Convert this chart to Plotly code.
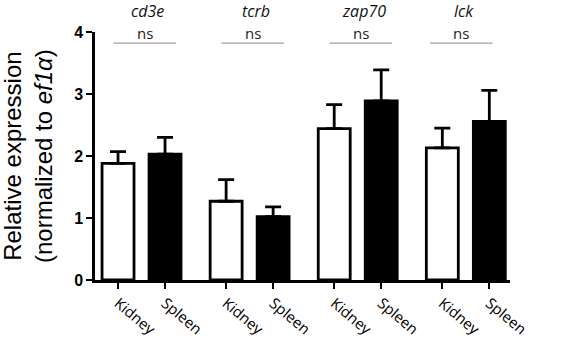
import plotly.graph_objects as go

genes = ["cd3e", "tcrb", "zap70", "lck"]
tissues = ["Kidney", "Spleen"]
kidney_mean = [1.88, 1.27, 2.44, 2.13]
kidney_err = [0.19, 0.35, 0.39, 0.32]
spleen_mean = [2.03, 1.02, 2.89, 2.56]
spleen_err = [0.27, 0.16, 0.50, 0.50]
sig_labels = ["ns", "ns", "ns", "ns"]
y_ticks = [0, 1, 2, 3, 4]

group_step = 2.3
kx = [i * group_step for i in range(len(genes))]
sx = [x + 1 for x in kx]

fig = go.Figure()
fig.add_trace(go.Bar(
    x=kx, y=kidney_mean, width=0.68, name="Kidney",
    marker=dict(color="white", line=dict(color="black", width=2.8)),
    error_y=dict(type="data", array=kidney_err, arrayminus=[0] * 4, symmetric=False,
                 color="black", thickness=2.8, width=8),
))
fig.add_trace(go.Bar(
    x=sx, y=spleen_mean, width=0.68, name="Spleen",
    marker=dict(color="black", line=dict(color="black", width=2.8)),
    error_y=dict(type="data", array=spleen_err, arrayminus=[0] * 4, symmetric=False,
                 color="black", thickness=2.8, width=8),
))

shift = [0, 0, 0, -0.16]
for i, g in enumerate(genes):
    x0 = kx[i] - 0.1 + shift[i]
    x1 = kx[i] + 1.23 + shift[i]
    xc = (x0 + x1) / 2
    fig.add_shape(type="line", xref="x", yref="paper", x0=x0, x1=x1, y0=0.955, y1=0.955,
                  line=dict(color="#a0a0a0", width=1.2))
    fig.add_annotation(x=xc, y=1.0, xref="x", yref="paper", text=sig_labels[i],
                       showarrow=False, yanchor="middle", yshift=-1,
                       font=dict(family="Open Sans", size=15, color="#222"))
    fig.add_annotation(x=xc + 0.06, y=1.0, xref="x", yref="paper", text="<i>" + g + "</i>",
                       showarrow=False, yanchor="middle", yshift=21,
                       font=dict(family="Open Sans", size=16, color="#111"))

fig.add_annotation(x=0, y=0.5, xref="paper", yref="paper", xshift=-67,
                   text="Relative expression<br>(normalized to <i>ef1α</i>)",
                   textangle=-90, showarrow=False, xanchor="center", yanchor="middle",
                   font=dict(family="Liberation Sans", size=24, color="black"))

tickvals = []
ticktext = []
for i in range(len(genes)):
    tickvals += [kx[i], sx[i]]
    ticktext += tissues

fig.update_layout(
    width=561, height=340,
    margin=dict(l=95, r=51, t=32, b=60),
    paper_bgcolor="white", plot_bgcolor="white",
    showlegend=False, barmode="overlay",
    xaxis=dict(range=[-0.49, 8.34], tickvals=tickvals, ticktext=ticktext, tickangle=40,
               automargin=False,
               showline=True, linecolor="black", linewidth=2.5, ticks="outside",
               ticklen=6, tickwidth=2, tickcolor="black", showgrid=False, zeroline=False,
               tickfont=dict(family="Open Sans", size=15, color="black")),
    yaxis=dict(range=[0, 4], tickvals=y_ticks, showline=True, linecolor="black", linewidth=2.5,
               automargin=False,
               ticks="outside", ticklen=6, tickwidth=2, tickcolor="black", showgrid=False,
               zeroline=False,
               tickfont=dict(family="Liberation Sans", size=16, color="black", weight="bold")),
)

# remove the page's default 8px body margin so the figure fills the window
fig.write_html("out.html", config={"displayModeBar": False},
               post_script="document.body.style.margin='0';document.body.style.overflow='hidden';")
